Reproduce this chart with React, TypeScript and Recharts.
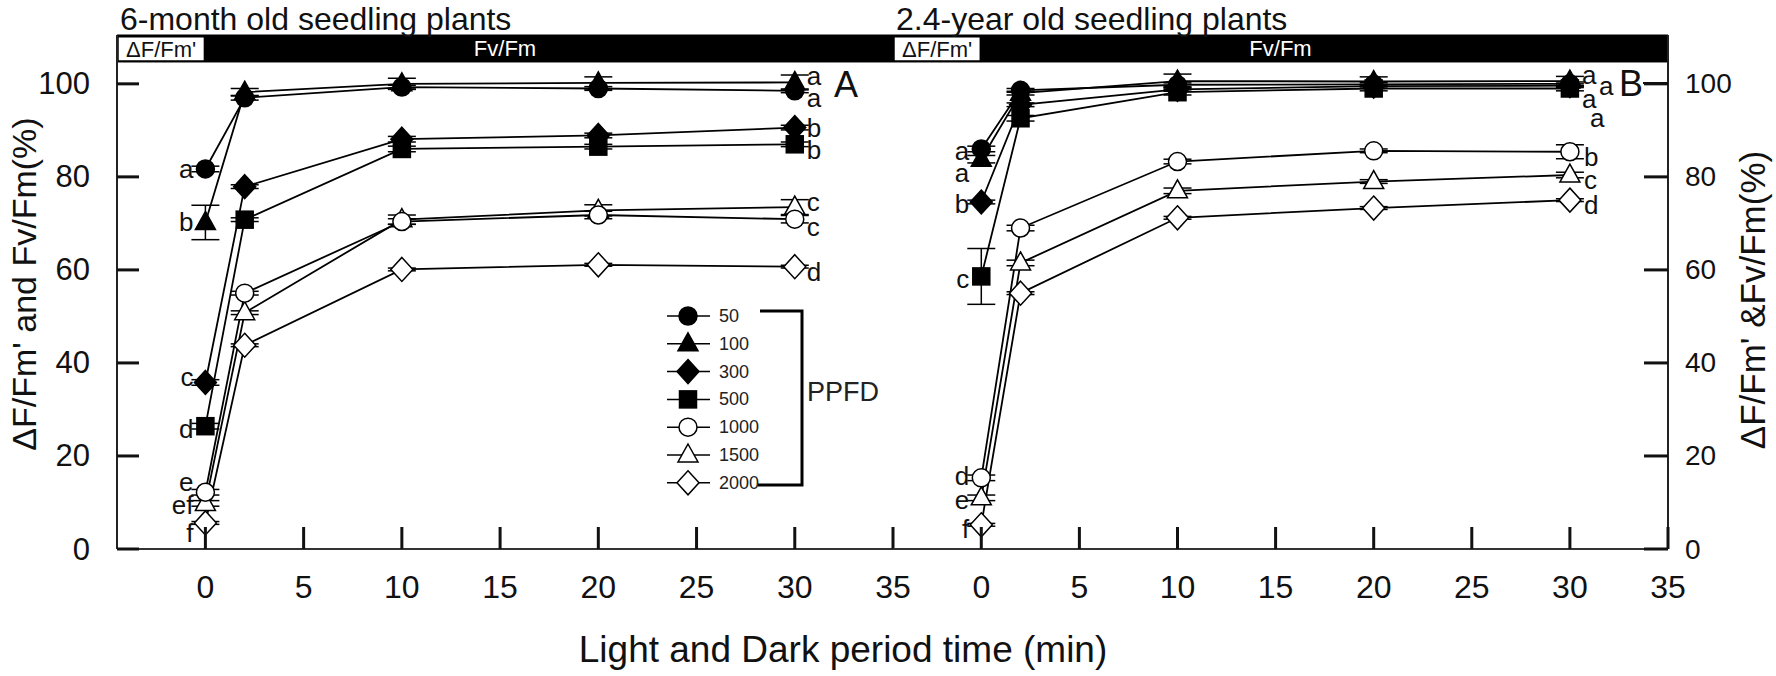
import React from 'react';
import { LineChart, Line, XAxis, YAxis, ReferenceArea, ErrorBar } from 'recharts';

// sampling times (min): 0 = light (ΔF/Fm'), then dark period (Fv/Fm)
const times = [0, 2, 10, 20, 30];
const ppfdLevels = ['50', '100', '300', '500', '1000', '1500', '2000'];
const xTicks = [0, 5, 10, 15, 20, 25, 30, 35];
const yTicks = [0, 20, 40, 60, 80, 100];

// A: 6-month old seedlings
const a50 = [81.7, 97.0, 99.3, 99.0, 98.5];
const a100 = [70.2, 98.2, 100.0, 100.2, 100.3];
const a300 = [35.8, 77.9, 88.1, 88.9, 90.6];
const a500 = [26.4, 70.8, 86.0, 86.5, 87.0];
const a1000 = [12.2, 55.0, 70.4, 71.8, 70.9];
const a1500 = [9.8, 50.8, 70.8, 72.8, 73.5];
const a2000 = [5.6, 43.8, 60.1, 61.1, 60.7];

const a50Err = [0.6, 0.5, 0.4, 0.4, 0.4];
const a100Err = [3.7, 0.8, 1.2, 1.3, 1.6];
const a300Err = [0.6, 0.4, 0.6, 0.5, 0.5];
const a500Err = [0.6, 0.4, 0.6, 0.5, 0.5];
const a1000Err = [0.6, 0.4, 0.6, 0.8, 0.8];
const a1500Err = [0.6, 0.4, 1.0, 1.2, 1.6];
const a2000Err = [0.3, 0.3, 0.3, 0.3, 0.3];

const a0Letters = ['a', 'b', 'c', 'd', 'e', 'ef', 'f'];
const a30Letters = ['a', 'a', 'b', 'b', 'c', 'c', 'd'];

// B: 2.4-year old seedlings
const b50 = [86.0, 98.6, 99.8, 99.9, 100.0];
const b100 = [83.8, 98.0, 100.6, 100.5, 100.6];
const b300 = [74.6, 95.5, 98.8, 99.5, 99.6];
const b500 = [58.6, 92.6, 98.2, 99.0, 99.0];
const b1000 = [15.3, 69.0, 83.3, 85.6, 85.4];
const b1500 = [11.0, 61.5, 77.0, 79.0, 80.4];
const b2000 = [5.2, 55.0, 71.2, 73.3, 75.0];

const b50Err = [0.6, 0.4, 0.4, 0.4, 0.4];
const b100Err = [0.8, 0.4, 1.5, 1.0, 1.0];
const b300Err = [0.4, 0.4, 0.4, 0.4, 0.4];
const b500Err = [6.0, 0.6, 0.6, 0.5, 0.5];
const b1000Err = [0.6, 0.6, 0.5, 0.4, 1.5];
const b1500Err = [0.6, 0.6, 0.6, 0.4, 0.6];
const b2000Err = [0.3, 0.3, 0.3, 0.3, 0.3];

const b0Letters = ['a', 'a', 'b', 'c', 'd', 'e', 'f'];
const b30Letters = ['a', 'a', 'a', 'a', 'b', 'c', 'd'];

const FONT = '"Liberation Sans", Arial, Helvetica, sans-serif';
const INK = '#111';

const MARKERS = [
  { shape: 'circle', filled: true },
  { shape: 'triangle', filled: true },
  { shape: 'diamond', filled: true },
  { shape: 'square', filled: true },
  { shape: 'circle', filled: false },
  { shape: 'triangle', filled: false },
  { shape: 'diamond', filled: false },
];

// letter nudges [dx, dy] for the significance letters
const NUDGE_A0 = [[0, 0], [0, 0], [0, -5], [0, 3], [0, -10], [0, 2], [0, 10]];
const NUDGE_A30 = [[0, 7], [0, -6], [0, 0], [0, 6], [0, 8], [0, -5], [0, 5]];
const NUDGE_B0 = [[0, 2], [0, 14], [0, 2], [0, 3], [0, -2], [0, 2], [0, 4]];
const NUDGE_B30 = [[0, -9], [17, 5], [0, 13], [8, 30], [2, 5], [2, 5], [2, 5]];

function buildRows(values: number[][], errs: number[][]) {
  return times.map((t, i) => {
    const row: Record<string, number> = { t };
    values.forEach((v, k) => {
      row[`v${k}`] = v[i];
      row[`e${k}`] = errs[k][i];
    });
    return row;
  });
}

const rowsA = buildRows(
  [a50, a100, a300, a500, a1000, a1500, a2000],
  [a50Err, a100Err, a300Err, a500Err, a1000Err, a1500Err, a2000Err]
);
const rowsB = buildRows(
  [b50, b100, b300, b500, b1000, b1500, b2000],
  [b50Err, b100Err, b300Err, b500Err, b1000Err, b1500Err, b2000Err]
);

function Marker({ cx, cy, shape, filled }: any) {
  const style = { fill: filled ? '#000' : '#fff', stroke: '#000', strokeWidth: 1.5 };
  if (shape === 'circle') return <circle cx={cx} cy={cy} r={9} {...style} />;
  if (shape === 'triangle')
    return <polygon points={`${cx},${cy - 11} ${cx + 10},${cy + 7} ${cx - 10},${cy + 7}`} {...style} />;
  if (shape === 'diamond')
    return <polygon points={`${cx},${cy - 12} ${cx + 11},${cy} ${cx},${cy + 12} ${cx - 11},${cy}`} {...style} />;
  return <rect x={cx - 8.5} y={cy - 8.5} width={17} height={17} {...style} />;
}

const LeftYTick = ({ x, y, payload }: any) => (
  <g>
    <line x1={x + 27} x2={x + 49} y1={y} y2={y} stroke={INK} strokeWidth={3} />
    <text x={x} y={y} textAnchor="end" dominantBaseline="central" fontSize={31} fill={INK}>
      {payload.value}
    </text>
  </g>
);

const RightYTick = ({ x, y, payload }: any) => (
  <g>
    <line x1={x - 17} x2={x - 41} y1={y} y2={y} stroke={INK} strokeWidth={3} />
    <text x={x} y={y} textAnchor="start" dominantBaseline="central" fontSize={28} fill={INK}>
      {payload.value}
    </text>
  </g>
);

const XTick = ({ x, y, payload }: any) => (
  <g>
    <line x1={x} x2={x} y1={y - 10} y2={y - 32} stroke={INK} strokeWidth={3} />
    <text x={x} y={y + 39} textAnchor="middle" fontSize={32} fill={INK}>
      {payload.value}
    </text>
  </g>
);

function Panel({ rows, letters0, letters30, nudge0, nudge30, side }: any) {
  const isLeft = side === 'left';
  const order = [6, 5, 4, 3, 2, 1, 0];
  const last = times.length - 1;

  const dotFor = (k: number) => (props: any) => {
    const { cx, cy, index } = props;
    let letter = null;
    if (index === 0) {
      const [dx, dy] = nudge0[k];
      letter = (
        <text x={cx - 12 + dx} y={cy + dy} textAnchor="end" dominantBaseline="central" fontSize={26} fill={INK}>
          {letters0[k]}
        </text>
      );
    } else if (index === last) {
      const [dx, dy] = nudge30[k];
      letter = (
        <text x={cx + 12 + dx} y={cy + dy} textAnchor="start" dominantBaseline="central" fontSize={26} fill={INK}>
          {letters30[k]}
        </text>
      );
    }
    return (
      <g key={`dot-${k}-${index}`}>
        <Marker cx={cx} cy={cy} {...MARKERS[k]} />
        {letter}
      </g>
    );
  };

  return (
    <LineChart
      width={isLeft ? 930 : 883}
      height={676}
      data={rows}
      margin={{ top: 35, right: isLeft ? 37 : 0, left: 0, bottom: 0 }}
    >
      <XAxis
        dataKey="t"
        type="number"
        domain={[-4.5, 35]}
        ticks={xTicks}
        allowDataOverflow
        height={127}
        axisLine={{ stroke: '#333', strokeWidth: 2 }}
        tickLine={false}
        tickSize={0}
        tickMargin={10}
        tick={<XTick />}
        interval={0}
      />
      <YAxis
        yAxisId="main"
        orientation={isLeft ? 'left' : 'right'}
        domain={[0, 110.5]}
        ticks={yTicks}
        allowDataOverflow
        width={isLeft ? 117 : 108}
        axisLine={{ stroke: '#222', strokeWidth: 2 }}
        tickLine={false}
        tickSize={0}
        tickMargin={isLeft ? 27 : 17}
        tick={isLeft ? <LeftYTick /> : <RightYTick />}
        interval={0}
      />
      <YAxis
        yAxisId="edge"
        orientation={isLeft ? 'right' : 'left'}
        domain={[0, 1]}
        width={0}
        tick={false}
        tickLine={false}
        axisLine={{ stroke: '#222', strokeWidth: 2 }}
      />
      <ReferenceArea
        yAxisId="main"
        x1={-4.5}
        x2={35}
        y1={104.7}
        y2={110.5}
        fill="#000"
        fillOpacity={1}
        stroke="#000"
        label={{ value: 'Fv/Fm', position: 'center', fill: '#fff', fontSize: 22 }}
      />
      <ReferenceArea
        yAxisId="main"
        x1={-4.45}
        x2={-0.05}
        y1={104.9}
        y2={110.1}
        fill="#fff"
        fillOpacity={1}
        stroke="#000"
        strokeWidth={1.5}
        label={{ value: "ΔF/Fm'", position: 'center', fill: INK, fontSize: 22 }}
      />
      {order.map((k) => (
        <Line
          key={k}
          yAxisId="main"
          dataKey={`v${k}`}
          name={ppfdLevels[k]}
          stroke="#000"
          strokeWidth={1.8}
          isAnimationActive={false}
          dot={dotFor(k)}
          activeDot={false}
        >
          <ErrorBar dataKey={`e${k}`} width={14} stroke="#000" strokeWidth={1.5} direction="y" />
        </Line>
      ))}
    </LineChart>
  );
}

function Legend() {
  return (
    <g transform="translate(660,290)">
      {ppfdLevels.map((lvl, k) => {
        const y = 26 + k * 27.8;
        return (
          <g key={lvl}>
            <line x1={7} x2={50} y1={y} y2={y} stroke="#000" strokeWidth={1.5} />
            <Marker cx={28} cy={y} {...MARKERS[k]} />
            <text x={59} y={y} dominantBaseline="central" fontSize={18} fill="#222">
              {lvl}
            </text>
          </g>
        );
      })}
      <path d="M100,21 H142 V195 H98" fill="none" stroke="#000" strokeWidth={3} />
      <text x={147} y={102} dominantBaseline="central" fontSize={27} fill="#222">
        PPFD
      </text>
    </g>
  );
}

export default function App() {
  return (
    <div style={{ position: 'absolute', left: 0, top: 0, width: 1776, height: 676, background: '#fff', fontFamily: FONT }}>
      <div style={{ position: 'absolute', left: 0, top: 0 }}>
        <Panel rows={rowsA} letters0={a0Letters} letters30={a30Letters} nudge0={NUDGE_A0} nudge30={NUDGE_A30} side="left" />
      </div>
      <div style={{ position: 'absolute', left: 893, top: 0 }}>
        <Panel rows={rowsB} letters0={b0Letters} letters30={b30Letters} nudge0={NUDGE_B0} nudge30={NUDGE_B30} side="right" />
      </div>
      <svg width={1776} height={676} style={{ position: 'absolute', left: 0, top: 0, pointerEvents: 'none' }}>
        <text x={120} y={30} fontSize={32} fill={INK}>6-month old seedling plants</text>
        <text x={896} y={30} fontSize={32} fill={INK}>2.4-year old seedling plants</text>
        <text x={846} y={84} fontSize={36} fill={INK} textAnchor="middle" dominantBaseline="central">A</text>
        <text x={1631} y={83} fontSize={36} fill={INK} textAnchor="middle" dominantBaseline="central">B</text>
        <line x1={1643} x2={1668} y1={83} y2={83} stroke={INK} strokeWidth={2} />
        <text x={843} y={662} fontSize={37} fill={INK} textAnchor="middle">Light and Dark period time (min)</text>
        <text transform="translate(24,284) rotate(-90)" fontSize={34} fill={INK} textAnchor="middle" dominantBaseline="central">
          ΔF/Fm' and Fv/Fm(%)
        </text>
        <text transform="translate(1752,300) rotate(-90)" fontSize={35} fill={INK} textAnchor="middle" dominantBaseline="central">
          ΔF/Fm' &amp;Fv/Fm(%)
        </text>
        <Legend />
      </svg>
    </div>
  );
}
